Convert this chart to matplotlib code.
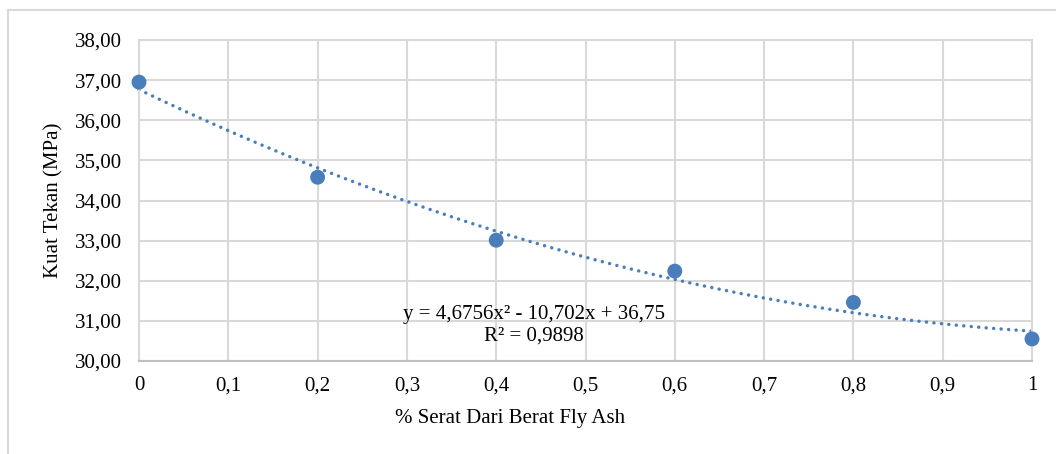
import numpy as np
import matplotlib
matplotlib.use("Agg")
import matplotlib.pyplot as plt
from matplotlib.lines import Line2D

x_vals = [0, 0.2, 0.4, 0.6, 0.8, 1.0]
y_vals = [36.95, 34.58, 33.01, 32.24, 31.46, 30.55]
x_ticks = [0, 0.1, 0.2, 0.3, 0.4, 0.5, 0.6, 0.7, 0.8, 0.9, 1.0]
x_tick_labels = ["0", "0,1", "0,2", "0,3", "0,4", "0,5", "0,6", "0,7", "0,8", "0,9", "1"]
y_ticks = [30, 31, 32, 33, 34, 35, 36, 37, 38]
y_tick_labels = ["30,00", "31,00", "32,00", "33,00", "34,00", "35,00", "36,00", "37,00", "38,00"]
eq_text = "y = 4,6756x² - 10,702x + 36,75\nR² = 0,9898"

plt.rcParams['font.family'] = ['Liberation Serif', 'DejaVu Serif']
FS = 15

W, H = 1056, 454
fig = plt.figure(figsize=(W / 100, H / 100), dpi=100)
fig.patch.set_facecolor("white")

# outer chart border (left and top visible)
fig.add_artist(Line2D([7.5 / W, 7.5 / W], [1 - 9.5 / H, 0], transform=fig.transFigure,
                      color="#d9d9d9", lw=1.5))
fig.add_artist(Line2D([7.5 / W, 1], [1 - 9.5 / H, 1 - 9.5 / H], transform=fig.transFigure,
                      color="#d9d9d9", lw=1.5))

left, right, top, bottom = 139 / W, 1032 / W, 1 - 40 / H, 1 - 361 / H
ax = fig.add_axes([left, bottom, right - left, top - bottom])
axw, axh = (right - left) * W, (top - bottom) * H

ax.set_xlim(0, 1)
ax.set_ylim(30, 38)
ax.set_xticks(x_ticks)
ax.set_xticklabels(x_tick_labels)
ax.set_yticks(y_ticks)
ax.set_yticklabels(y_tick_labels)
ax.grid(True, color="#d9d9d9", lw=1.5)
ax.set_axisbelow(True)
for s in ax.spines.values():
    s.set_color("#d9d9d9")
    s.set_linewidth(1.5)
ax.spines["bottom"].set_color("#bfbfbf")
ax.tick_params(length=0, labelsize=FS, colors="black")
ax.tick_params(axis="y", pad=12)
ax.tick_params(axis="x", pad=11)

# trendline (2nd order polynomial fit)
coef = np.polyfit(x_vals, y_vals, 2)
xs = np.linspace(0, 1, 300)
ax.plot(xs, np.polyval(coef, xs), color="#4a7ebb", lw=2.5, ls=(0, (0.01, 2.15)),
        dash_capstyle="round", zorder=2, clip_on=False)

ax.scatter(x_vals, y_vals, s=115, color="#4a7ebb", zorder=3, clip_on=False, edgecolors="none")

ax.text(0.442, 30.885, eq_text, ha="center", va="center", fontsize=FS,
        linespacing=1.2)

ax.set_xlabel("% Serat Dari Berat Fly Ash", fontsize=FS)
ax.xaxis.set_label_coords((510 - 139) / axw, -(418 - 361) / axh)
ax.xaxis.label.set_va("center")
ax.set_ylabel("Kuat Tekan (MPa)", fontsize=FS)
ax.yaxis.set_label_coords(-(139 - 54) / axw, 0.5)
ax.yaxis.label.set_va("center")

fig.savefig("out.png", dpi=100)
